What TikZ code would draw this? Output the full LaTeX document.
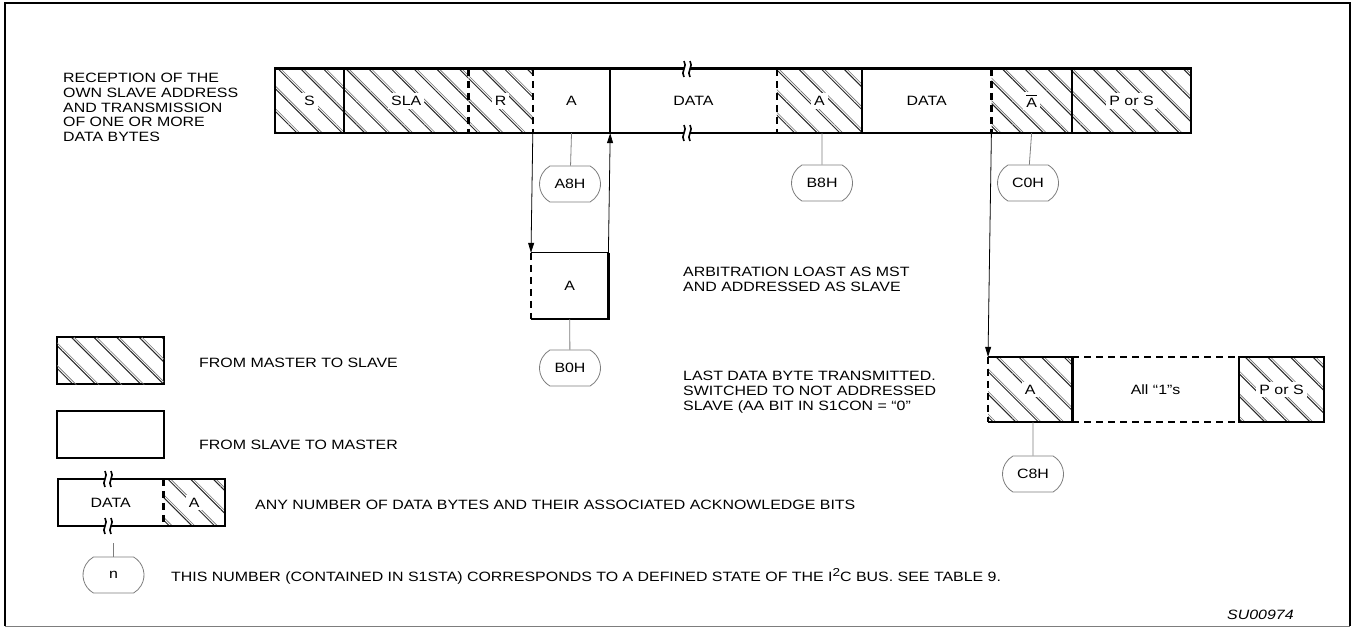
\documentclass[tikz,border=0pt]{standalone}
\usepackage{fontspec}
\setmainfont{Liberation Sans}[FakeStretch=1.18]
\usetikzlibrary{arrows.meta, positioning, patterns.meta, shapes.misc}
\definecolor{stubc}{RGB}{125,125,125}
\definecolor{hatchc}{RGB}{40,40,40}
\newcommand{\squig}[2]{%
  \begin{scope}[shift={(#1,#2)}]
    \fill[white] (-3,-2) rectangle (3,2);
    \draw[line width=1.6pt] (-3,-8) .. controls (1,-3) and (-7,3) .. (-3,8);
    \draw[line width=1.6pt] (3,-8) .. controls (7,-3) and (-1,3) .. (3,8);
  \end{scope}}
\newcommand{\clr}[1]{{\setlength{\fboxsep}{3pt}\colorbox{white}{#1}}}
\tikzset{
  seg/.style={minimum height=64pt, inner sep=0pt, anchor=west},
  hatch/.style={pattern={Lines[angle=-45, distance=16pt, line width=1pt]}, pattern color=hatchc,
    postaction={pattern={Lines[angle=-45, distance=16pt, line width=0.6pt, xshift=2.8pt]}, pattern color=black!55}},
  frame/.style={line width=2.2pt},
  dashframe/.style={line width=2.2pt, dash pattern=on 7pt off 5pt},
  stub/.style={stubc, line width=0.8pt},
  state/.style={rounded rectangle, rounded rectangle arc length=120, draw=stubc, line width=0.8pt,
    minimum width=61pt, minimum height=36pt, inner sep=0pt},
  flow/.style={line width=0.8pt, -{Triangle[length=10pt, width=6pt]}},
  txt/.style={inner sep=0pt, align=left}
}

\begin{document}
\begin{tikzpicture}[x=1pt, y=-1pt, font=\fontsize{13.5}{14.7}\selectfont]
  \useasboundingbox (0,0) rectangle (1356,628);
  \draw[line width=2.5pt] (5,626) -- (5,3) -- (1350,3) -- (1350,626);
  \draw[stubc, line width=1pt] (5,626) -- (1350,626);

  \node[txt, anchor=north west] (intro) at (63,73) {RECEPTION OF THE\\OWN SLAVE ADDRESS\\AND TRANSMISSION\\OF ONE OR MORE\\DATA BYTES};

  \node[seg, hatch, minimum width=68pt] (S) at (275,101) {\clr{S}};
  \node[seg, hatch, minimum width=124pt, right=0pt of S] (SLA) {\clr{SLA}};
  \node[seg, hatch, minimum width=64pt, right=0pt of SLA] (R) {\clr{R}};
  \node[seg, minimum width=77pt, right=0pt of R] (A1) {A};
  \node[seg, minimum width=166pt, right=0pt of A1] (D1) {DATA};
  \node[seg, hatch, minimum width=85pt, right=0pt of D1] (A2) {\clr{A}};
  \node[seg, minimum width=129pt, right=0pt of A2] (D2) {DATA};
  \node[seg, hatch, minimum width=80pt, right=0pt of D2] (NA) {\clr{$\overline{\mbox{A\rule{0pt}{10.5pt}}}$}};
  \node[seg, hatch, minimum width=119pt, right=0pt of NA] (PS) {\clr{P or S}};
  \draw[frame] (S.north west) rectangle (PS.south east);
  \foreach \n in {SLA, D1, D2, PS}
    \draw[frame] (\n.north west) -- (\n.south west);
  \foreach \n in {R, A1, A2, NA}
    \draw[dashframe] (\n.north west) -- (\n.south west);
  \squig{687}{69}
  \squig{687}{133}

  \node[state] (sA8) at (570,184) {A8H};
  \node[state] (sB8) at (822,183) {B8H};
  \node[state] (sC0) at (1028,183) {C0H};
  \draw[stub] (A1.south) -- (sA8);
  \draw[stub] (sB8 |- A2.south) -- (sB8);
  \draw[stub] (NA.south) -- (sC0);

  \node[seg, minimum width=77pt, minimum height=66pt] (A3) at (531,286) {A};
  \draw[line width=0.8pt] (A3.north west) -- (A3.north east);
  \draw[frame] (A3.south west) -- (A3.south east) -- (A3.north east);
  \draw[dashframe] (A3.north west) -- (A3.south west);
  \draw[flow] (A1.south west) -- (A3.north west);
  \draw[flow] (A3.north east) -- (A1.south east);
  \node[state] (sB0) at (570,368) {B0H};
  \draw[stub] (A3.south) -- (sB0);
  \node[txt, anchor=north west] (arb) at (683,267) {ARBITRATION LOAST AS MST\\AND ADDRESSED AS SLAVE};

  \node[seg, hatch, minimum width=84pt, minimum height=65pt] (A4) at (988,389.5) {\clr{A}};
  \node[seg, minimum width=166pt, minimum height=65pt, right=0pt of A4] (ones) {All “1”s};
  \node[seg, hatch, minimum width=85pt, minimum height=65pt, right=0pt of ones] (PS2) {\clr{P or S}};
  \draw[frame] (A4.south west) -- (A4.south east) -- (A4.north east) -- (A4.north west);
  \draw[dashframe] (A4.north west) -- (A4.south west);
  \draw[dashframe] (ones.north west) -- (ones.north east);
  \draw[dashframe] (ones.south west) -- (ones.south east);
  \draw[frame] (PS2.north west) rectangle (PS2.south east);
  \draw[flow] (NA.south west) -- (A4.north west);
  \node[state] (sC8) at (1033,474) {C8H};
  \draw[stub] (sC8 |- A4.south) -- (sC8);
  \node[txt, anchor=north west] (last) at (683,371) {LAST DATA BYTE TRANSMITTED.\\SWITCHED TO NOT ADDRESSED\\SLAVE (AA BIT IN S1CON = “0”};

  \node[seg, hatch, draw, frame, minimum width=107pt, minimum height=47pt] (lgM) at (56,360.5) {};
  \node[txt, anchor=base west] (lgMt) at (199,367) {FROM MASTER TO SLAVE};
  \node[seg, draw, frame, minimum width=107pt, minimum height=47pt] (lgS) at (56,434.5) {};
  \node[txt, anchor=base west] (lgSt) at (199,449) {FROM SLAVE TO MASTER};
  \node[seg, minimum width=105pt, minimum height=47pt] (lgD) at (58,502.5) {DATA};
  \node[seg, hatch, minimum width=61pt, minimum height=47pt, right=0pt of lgD] (lgA) {\clr{A}};
  \draw[frame] (lgD.north west) rectangle (lgA.south east);
  \draw[dashframe] (lgA.north west) -- (lgA.south west);
  \squig{108}{479}
  \squig{108}{526}
  \node[txt, anchor=base west] (lgDt) at (255,509) {ANY NUMBER OF DATA BYTES AND THEIR ASSOCIATED ACKNOWLEDGE BITS};
  \node[state] (sn) at (113.5,575) {n};
  \draw[stub] (sn.north) -- ++(0,-14);
  \node[txt, anchor=base west] (snt) at (171,581) {THIS NUMBER (CONTAINED IN S1STA) CORRESPONDS TO A DEFINED STATE OF THE I\raisebox{4.5pt}{\fontsize{11.5}{11.5}\selectfont 2}C BUS. SEE TABLE 9.};

  \node[txt, anchor=base west, font=\fontsize{13.5}{14.7}\selectfont\itshape] (tag) at (1227,619) {SU00974};
\end{tikzpicture}
\end{document}
